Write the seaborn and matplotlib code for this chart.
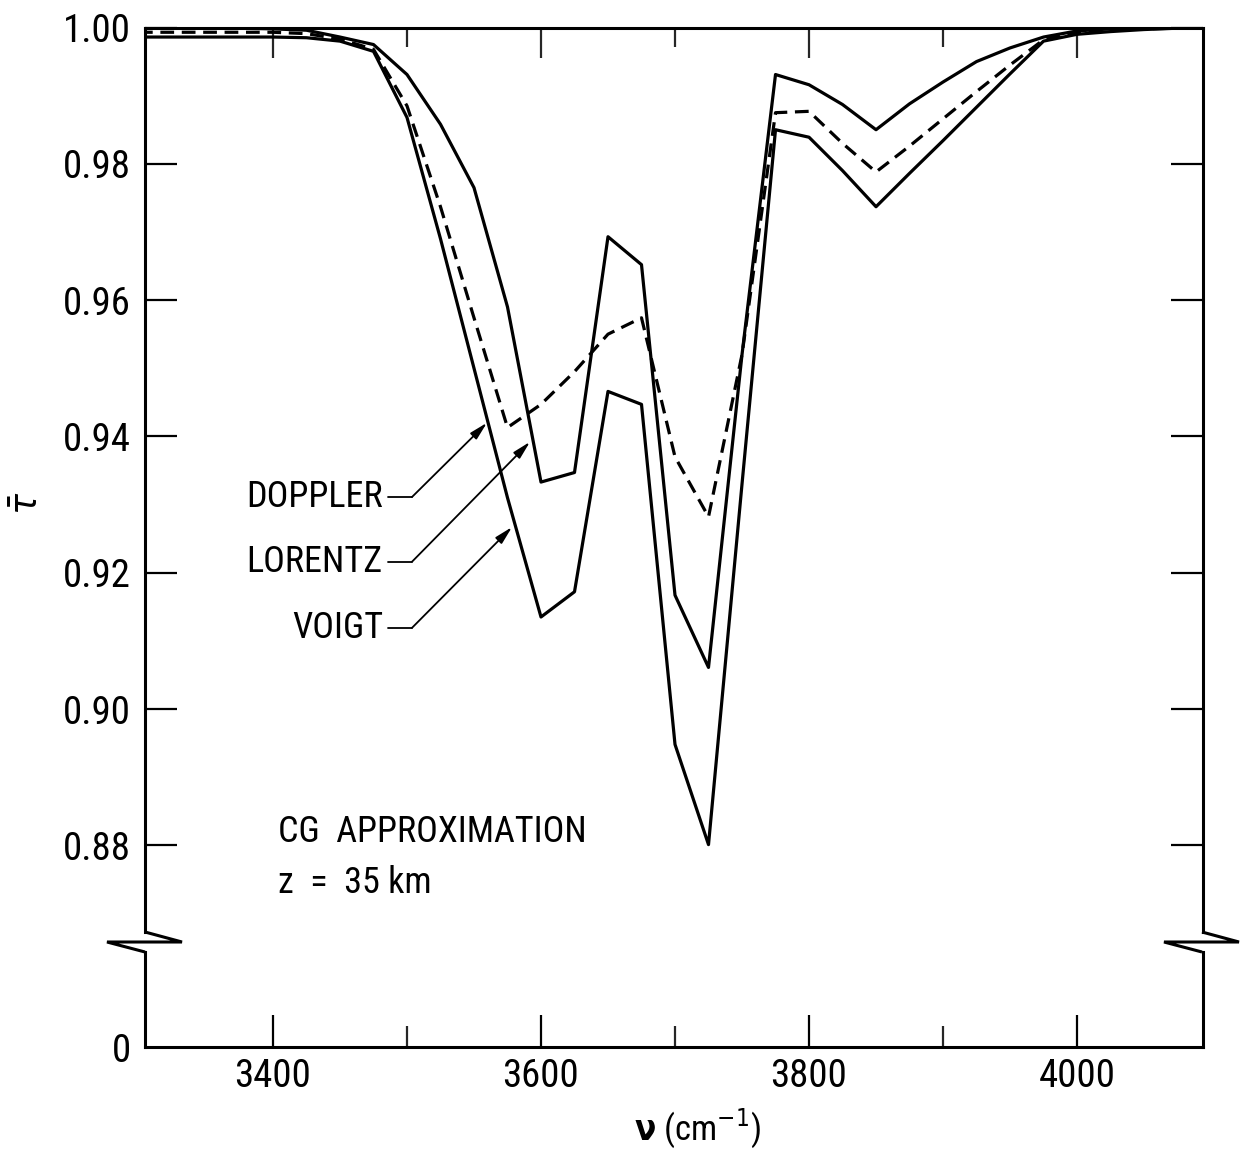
import numpy as np
import pandas as pd
import matplotlib
matplotlib.use("Agg")
import matplotlib.pyplot as plt
from matplotlib.lines import Line2D
from matplotlib import font_manager as fm
import seaborn as sns

# ---------------- data ----------------
nu = [3300, 3325, 3350, 3375, 3400, 3425, 3450, 3475, 3500, 3525, 3550,
      3575, 3600, 3625, 3650, 3675, 3700, 3725, 3750, 3775, 3800, 3825,
      3850, 3875, 3900, 3925, 3950, 3975, 4000, 4025, 4050, 4075, 4100]

doppler = [0.9999, 0.9999, 0.9999, 0.9999, 0.9998, 0.9996, 0.9986, 0.9975,
           0.9931, 0.9858, 0.9765, 0.9590, 0.9333, 0.9347, 0.9693, 0.9652,
           0.9167, 0.9061, 0.9520, 0.9931, 0.9916, 0.9887, 0.9850, 0.9888,
           0.9920, 0.9950, 0.9970, 0.9986, 0.9995, 0.9998, 1.0000, 1.0000,
           1.0000]

lorentz = [0.9993, 0.9993, 0.9993, 0.9993, 0.9993, 0.9991, 0.9983, 0.9968,
           0.9885, 0.9737, 0.9574, 0.9413, 0.9447, 0.9495, 0.9550, 0.9574,
           0.9370, 0.9282, 0.9520, 0.9875, 0.9877, 0.9830, 0.9788, 0.9826,
           0.9866, 0.9906, 0.9945, 0.9982, 0.9993, 0.9996, 0.9998, 0.9999,
           1.0000]

voigt = [0.9986, 0.9986, 0.9986, 0.9986, 0.9986, 0.9985, 0.9980, 0.9965,
         0.9868, 0.9690, 0.9500, 0.9310, 0.9135, 0.9172, 0.9466, 0.9447,
         0.8948, 0.8801, 0.9330, 0.9850, 0.9839, 0.9790, 0.9737, 0.9786,
         0.9834, 0.9883, 0.9932, 0.9980, 0.9990, 0.9994, 0.9997, 0.9999,
         1.0000]

profiles = ["DOPPLER", "LORENTZ", "VOIGT"]
upper_yticks = [0.88, 0.90, 0.92, 0.94, 0.96, 0.98, 1.00]
upper_yticklabels = ["0.88", "0.90", "0.92", "0.94", "0.96", "0.98", "1.00"]
xticks_major = [3400, 3600, 3800, 4000]
xticks_minor = [3500, 3700, 3900]

# annotation geometry (data coords): label anchor, leader end, arrow tip
label_nu = [3482, 3482, 3482]
label_tau = [0.9311, 0.9216, 0.9119]
tail_nu = [3503.7, 3503.7, 3503.7]
tip_nu = [3559.7, 3591.8, 3578.4]
tip_tau = [0.9420, 0.9392, 0.9267]

# ---------------- fonts: prefer a condensed sans face ----------------
sns.set_theme(style="white")

cond_words = ("condensed", "narrow")
entries = [(f.name, str(f.stretch)) for f in fm.fontManager.ttflist]
chosen = None
pref = ["Liberation Sans Narrow", "Roboto Condensed", "Open Sans Condensed",
        "Noto Sans Condensed", "DejaVu Sans Condensed"]
for p in pref:
    for name, st in entries:
        if name == p:
            chosen = (name, st)
            break
    if chosen:
        break
if chosen is None:
    for name, st in entries:
        if ("Sans" in name or "Roboto" in name) and (
                st in ("condensed", "semi-condensed", "extra-condensed")):
            chosen = (name, st)
            break
if chosen is None:
    for name, st in entries:
        if any(w in name.lower() for w in cond_words):
            chosen = (name, st)
            break

if chosen is not None:
    plt.rcParams["font.family"] = [chosen[0], "DejaVu Sans"]
    if chosen[1] in ("condensed", "semi-condensed", "extra-condensed"):
        plt.rcParams["font.stretch"] = chosen[1]
    tick_fs, lab_fs, note_fs, xl_fs = 28, 26, 26, 25
else:
    plt.rcParams["font.family"] = ["Roboto", "DejaVu Sans"]
    tick_fs, lab_fs, note_fs, xl_fs = 25, 23, 23, 23
plt.rcParams["mathtext.fontset"] = "dejavusans"

W, H = 1245, 1152
fig = plt.figure(figsize=(W / 100, H / 100), dpi=100)
fig.patch.set_facecolor("white")

left_px, right_px = 145, 1203
top_px, brk_top_px, brk_bot_px, bot_px = 27.5, 932, 952, 1047
px_per_unit = 6815.0

ax_top = fig.add_axes([left_px / W, 1 - brk_top_px / H,
                       (right_px - left_px) / W, (brk_top_px - top_px) / H])
ax_bot = fig.add_axes([left_px / W, 1 - bot_px / H,
                       (right_px - left_px) / W, (bot_px - brk_bot_px) / H])

df = pd.DataFrame({
    "nu": nu * 3,
    "tau": doppler + lorentz + voigt,
    "profile": [profiles[0]] * len(nu) + [profiles[1]] * len(nu) + [profiles[2]] * len(nu),
})

lw = 2.3
sns.lineplot(data=df, x="nu", y="tau", hue="profile", style="profile",
             palette={p: "black" for p in profiles},
             dashes={"DOPPLER": "", "LORENTZ": (4.3, 2.4), "VOIGT": ""},
             linewidth=lw, legend=False, ax=ax_top, sort=False)

xlim = (3304.5, 4094)
ax_top.set_xlim(*xlim)
ax_bot.set_xlim(*xlim)
ax_top.set_ylim(1 - (brk_top_px - top_px) / px_per_unit, 1.0)
ax_bot.set_ylim(0, 1)

spine_w = 2.2
for ax in (ax_top, ax_bot):
    ax.set_facecolor("white")
    ax.grid(False)
    ax.set_xlabel("")
    ax.set_ylabel("")
    for s in ax.spines.values():
        s.set_color("black")
        s.set_linewidth(spine_w)
ax_top.spines["bottom"].set_visible(False)
ax_bot.spines["top"].set_visible(False)

# upper axes ticks
ax_top.set_yticks(upper_yticks)
ax_top.set_yticklabels(upper_yticklabels, fontsize=tick_fs)
ax_top.tick_params(axis="y", which="major", direction="in", length=23, width=1.6,
                   left=True, right=True, labelleft=True, labelright=False,
                   pad=10, colors="black")
ax_top.set_xticks(xticks_major)
ax_top.set_xticks(xticks_minor, minor=True)
ax_top.tick_params(axis="x", which="major", direction="in", length=21.5, width=1.6,
                   top=True, bottom=False, labeltop=False, labelbottom=False)
ax_top.tick_params(axis="x", which="minor", direction="in", length=13.5, width=1.6,
                   top=True, bottom=False, labeltop=False, labelbottom=False)

# lower axes ticks
ax_bot.set_yticks([0])
ax_bot.set_yticklabels(["0"], fontsize=tick_fs)
ax_bot.tick_params(axis="y", which="major", direction="in", length=0,
                   left=True, right=False, pad=10, colors="black")
ax_bot.set_xticks(xticks_major)
ax_bot.set_xticklabels([str(t) for t in xticks_major], fontsize=tick_fs)
ax_bot.set_xticks(xticks_minor, minor=True)
ax_bot.tick_params(axis="x", which="major", direction="in", length=23, width=1.6,
                   top=False, bottom=True, pad=8, colors="black")
ax_bot.tick_params(axis="x", which="minor", direction="in", length=15, width=1.6,
                   top=False, bottom=True, labelbottom=False)

# axis break zig-zags (figure pixel geometry)
def px2fig(xs, ys):
    return [x / W for x in xs], [1 - y / H for y in ys]

for sx in (left_px, right_px - 1):
    xs = [sx, sx + 37, sx - 38, sx]
    ys = [brk_top_px, 942, 942, brk_bot_px]
    fx, fy = px2fig(xs, ys)
    fig.add_artist(Line2D(fx, fy, color="black", lw=spine_w,
                          solid_joinstyle="miter", solid_capstyle="butt"))

# labels with leaders and arrows
for name, lx, ly, tx, ax_, ay in zip(profiles, label_nu, label_tau, tail_nu,
                                    tip_nu, tip_tau):
    ax_top.text(lx, ly, name, ha="right", va="center", fontsize=lab_fs,
                color="black")
    ax_top.plot([lx + 4, tx], [ly, ly], color="black", lw=1.3)
    ax_top.annotate("", xy=(ax_, ay), xytext=(tx, ly),
                    arrowprops=dict(arrowstyle="-|>,head_length=0.9,head_width=0.22",
                                    color="black", lw=1.3, shrinkA=0, shrinkB=0))

ax_top.text(3400 + (278 - 273) / 1.34, 1 - (832 - top_px) / px_per_unit,
            "CG  APPROXIMATION", ha="left", va="center", fontsize=note_fs,
            color="black")
ax_top.text(3400 + (278 - 273) / 1.34, 1 - (883 - top_px) / px_per_unit,
            "z  =  35 km", ha="left", va="center", fontsize=note_fs,
            color="black")

# axis titles
fig.text(697 / W, 1 - 1128 / H, r"$\mathbf{\nu}$ (cm$^{-1}$)", ha="center",
         va="center", fontsize=xl_fs, color="black")
fig.text(28 / W, 1 - 503 / H, r"$\bar{\tau}$", ha="center", va="center",
         rotation=90, fontsize=28, color="black")

fig.savefig("out.png", dpi=100, facecolor="white")
